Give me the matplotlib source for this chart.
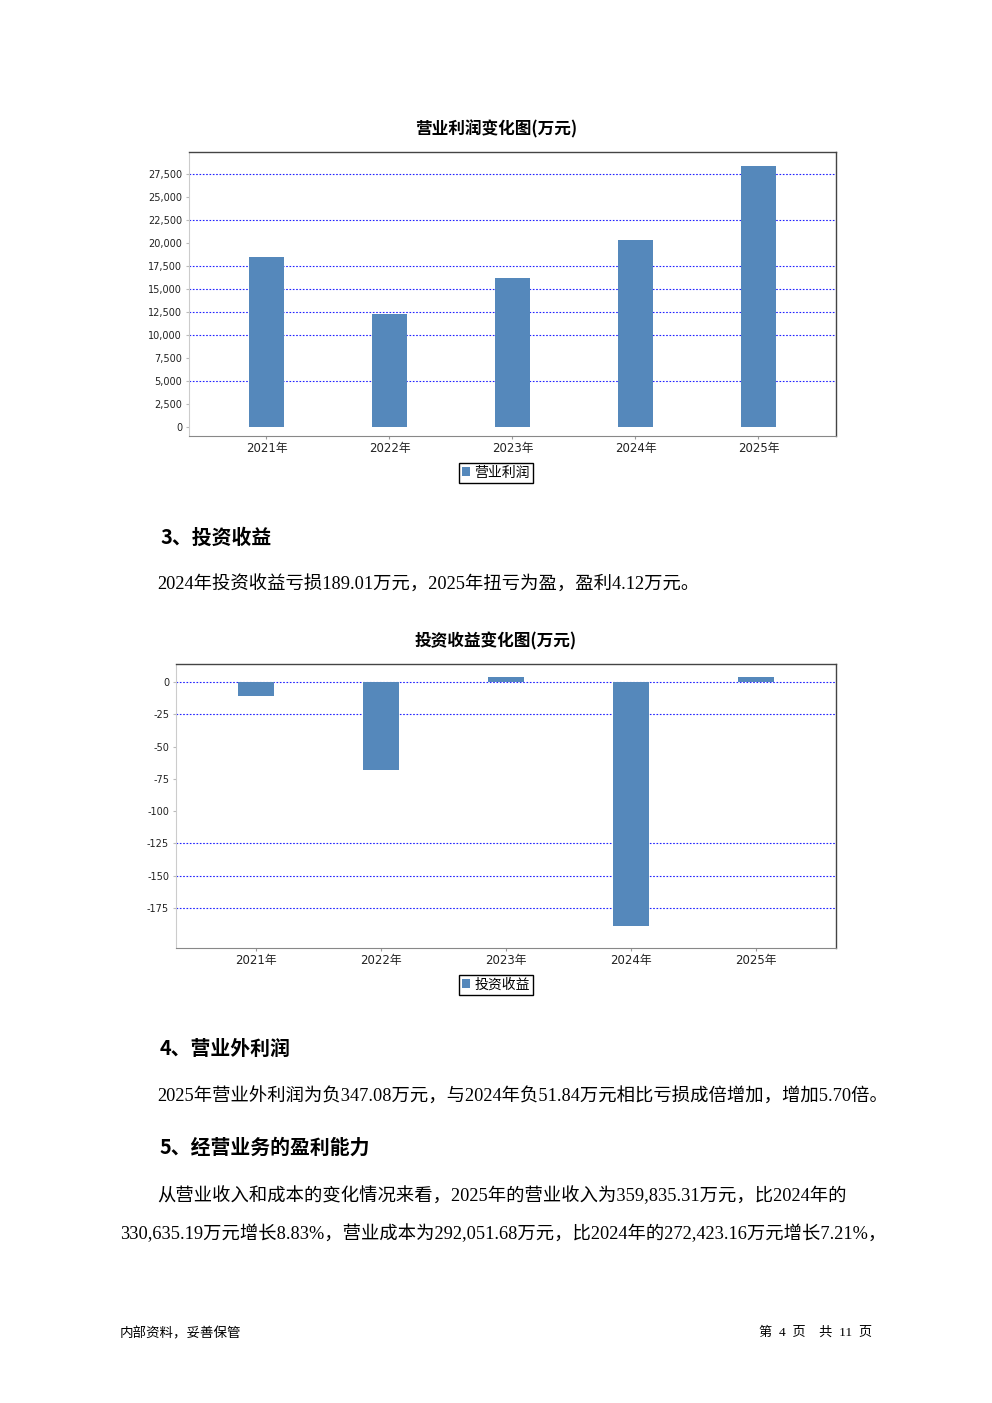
import matplotlib
matplotlib.use("Agg")
import matplotlib.pyplot as plt
from matplotlib.ticker import FuncFormatter

# ==========================================================
# DATA
# ==========================================================

years = ["2021年", "2022年", "2023年", "2024年", "2025年"]

op_profit = [18500, 12300, 16200, 20300, 28400]
op_ticks = list(range(0, 27501, 2500))
op_grid = [27500, 22500, 17500, 15000, 12500, 10000, 5000]

inv_income = [-11.0, -68.0, 3.9, -189.01, 4.12]
inv_ticks = [0, -25, -50, -75, -100, -125, -150, -175]
inv_grid = [0, -25, -125, -150, -175]

BAR = "#5588bb"
CJK = ["Noto Sans CJK SC", "DejaVu Sans"]
TICK = ["DejaVu Sans", "Noto Sans CJK SC"]
BODY = ["Liberation Serif", "Noto Sans CJK SC"]

W, H = 992, 1403


def px(x, y):
    return x / W, 1 - y / H


# ==========================================================
# CHART
# ==========================================================

def draw_chart(fig, rect, values, ticks, grid, ylim, xlim,
               title, title_y, label, legend_y):

    ax = fig.add_axes(rect)

    x = list(range(len(values)))

    ax.bar(x, values, width=0.29, color=BAR, label=label, zorder=3)

    for g in grid:
        ax.axhline(g, color="#2222ff", lw=0.8,
                   linestyle=(0, (1.5, 1.5)), zorder=2)

    ax.set_xlim(*xlim)
    ax.set_ylim(*ylim)

    ax.set_yticks(ticks)
    ax.yaxis.set_major_formatter(
        FuncFormatter(lambda v, p: f"{int(v):,}")
    )

    ax.set_xticks(x)
    ax.set_xticklabels(years, family=TICK, fontsize=8.5, color="#222222")

    for t in ax.get_yticklabels():
        t.set_fontsize(7)
        t.set_color("#222222")

    ax.tick_params(axis="y", length=2, color="#bbbbbb", pad=3)
    ax.tick_params(axis="x", length=2, color="#999999", pad=2)

    for s in ["top", "right"]:
        ax.spines[s].set_color("#444444")
        ax.spines[s].set_linewidth(1.0)
    ax.spines["left"].set_color("#cccccc")
    ax.spines["bottom"].set_color("#888888")

    fig.text(*px(W / 2, title_y), title, family=CJK, fontsize=12,
             fontweight="bold", ha="center", va="center")

    leg = ax.legend(
        loc="upper center",
        bbox_to_anchor=px(W / 2, legend_y),
        bbox_transform=fig.transFigure,
        prop={"family": CJK, "size": 10},
        fancybox=False,
        framealpha=1,
        edgecolor="black",
        handlelength=0.6,
        handleheight=0.6,
        handletextpad=0.3,
        borderpad=0.2,
        borderaxespad=0
    )
    leg.get_frame().set_linewidth(1.0)

    return ax


# ==========================================================
# FIGURE
# ==========================================================

fig = plt.figure(figsize=(W / 100, H / 100), dpi=100)

draw_chart(
    fig,
    [0.1905, 0.6892, 0.6522, 0.2024],
    op_profit, op_ticks, op_grid,
    (-1000, 29900), (-0.63, 4.63),
    "营业利润变化图(万元)", 129, "营业利润", 463
)

draw_chart(
    fig,
    [0.1774, 0.3243, 0.6653, 0.2024],
    inv_income, inv_ticks, inv_grid,
    (-206, 14), (-0.64, 4.64),
    "投资收益变化图(万元)", 641, "投资收益", 975
)

# ==========================================================
# PAGE TEXT
# ==========================================================

def head(x, y, s):
    fig.text(*px(x, y), s, family=CJK, fontsize=14.3,
             fontweight="bold", va="center")


def body(x, y, s):
    fig.text(*px(x, y), s, family=BODY, fontsize=13.2, va="center")


head(160, 537, "3、投资收益")
body(157, 585, "2024年投资收益亏损189.01万元，2025年扭亏为盈，盈利4.12万元。")

head(160, 1048, "4、营业外利润")
body(157, 1097, "2025年营业外利润为负347.08万元，与2024年负51.84万元相比亏损成倍增加，增加5.70倍。")

head(160, 1147, "5、经营业务的盈利能力")
body(157, 1196, "从营业收入和成本的变化情况来看，2025年的营业收入为359,835.31万元，比2024年的")
body(120, 1234, "330,635.19万元增长8.83%，营业成本为292,051.68万元，比2024年的272,423.16万元增长7.21%，")

fig.text(*px(120, 1333), "内部资料，妥善保管", family=CJK,
         fontsize=9.7, va="center")
fig.text(*px(872, 1333), "第  4  页    共  11  页", family=BODY,
         fontsize=9.5, va="center", ha="right")

fig.savefig("out.png", dpi=100)
